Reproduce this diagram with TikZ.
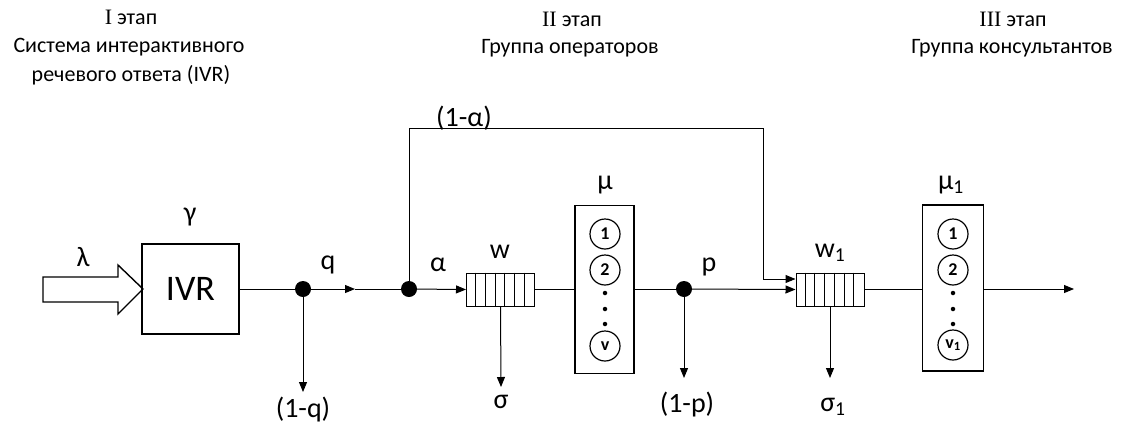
\documentclass[tikz,border=0pt]{standalone}
\usepackage{fontspec}
\setmainfont{Carlito}
\newfontfamily\romfont{Liberation Serif}
\usetikzlibrary{arrows.meta}
\tikzset{
 ln/.style={line width=1pt, draw=black},
 arr/.style={ln, -{Triangle[length=10pt,width=8pt]}},
 jdot/.style={circle, fill=black, inner sep=0pt, minimum size=16pt},
 lbl/.style={font=\fontsize{28}{30}\selectfont, inner sep=0pt},
 ttl/.style={font=\fontsize{22}{26}\selectfont, inner sep=0pt, align=center},
 qbox/.style={draw, line width=1pt, minimum width=68pt, minimum height=33pt, inner sep=0pt},
 srvbox/.style={draw, line width=1.8pt, minimum width=59pt, minimum height=168pt, inner sep=0pt},
 srv/.style={circle, draw, line width=1.2pt, minimum size=30pt, inner sep=0pt, font=\fontsize{18}{20}\selectfont\bfseries},
 sdot/.style={circle, fill=black, minimum size=4.5pt, inner sep=0pt},
}
\begin{document}
\begin{tikzpicture}[x=1pt,y=-1pt]
\useasboundingbox (0,0) rectangle (1121,426);
% titles
\node[ttl] (t1a) at (131,17) {{\romfont I} этап};
\node[ttl] (t1b) at (129,47) {Система интерактивного};
\node[ttl] (t1c) at (131,75) {речевого ответа (IVR)};
\node[ttl] (t2a) at (572,19) {{\romfont II} этап};
\node[ttl] (t2b) at (570,48) {Группа операторов};
\node[ttl] (t3a) at (1013,19) {{\romfont III} этап};
\node[ttl] (t3b) at (1012,48) {Группа консультантов};
% input arrow
\draw[line width=1.4pt] (43,277) -- (118,277) -- (118,265) -- (143,289) -- (118,314) -- (118,302) -- (43,302) -- cycle;
\node[lbl] (lam) at (83,257) {λ};
% IVR
\node[draw, line width=1.5pt, minimum width=97pt, minimum height=90pt, inner sep=0pt,
      font=\fontsize{36}{40}\selectfont] (ivr) at (190.5,289) {IVR};
\node[lbl] (gam) at (190,217) {γ};
% junctions
\node[jdot] (dq) at (303,289) {};
\node[jdot] (da) at (409,289) {};
\node[jdot] (dp) at (684,289) {};
\coordinate (qmid) at (355,289);
% queues
\node[qbox] (qw) at (500.5,289.5) {};
\foreach \i in {1,...,6} \draw[ln] ([xshift=\i*9.714pt]qw.north west) -- ([xshift=\i*9.714pt]qw.south west);
\node[qbox] (qw1) at (830,289.5) {};
\foreach \i in {1,...,6} \draw[ln] ([xshift=\i*9.714pt]qw1.north west) -- ([xshift=\i*9.714pt]qw1.south west);
% server boxes
\node[srvbox] (mu) at (604.5,289.5) {};
\node[srv] (s1) at (605,234) {1};
\node[srv] (s2) at (605,270) {2};
\node[sdot] (d1) at (605,293) {};
\node[sdot] (d2) at (605,309) {};
\node[sdot] (d3) at (605,324) {};
\node[srv] (sv) at (605,346) {v};
\node[srvbox, minimum width=61pt, minimum height=166pt] (mu1) at (953,288) {};
\node[srv] (r1) at (953,234) {1};
\node[srv] (r2) at (953,270) {2};
\node[sdot] (e1) at (953,293) {};
\node[sdot] (e2) at (953,309) {};
\node[sdot] (e3) at (953,324) {};
\node[srv] (rv) at (953,345) {v\textsubscript{1}};
% end points
\coordinate (qout) at (303,392);
\coordinate (sgout) at (501,387);
\coordinate (pout) at (684,378);
\coordinate (sg1out) at (830,378);
\coordinate (fb1) at (409,128);
\coordinate (fb2) at (763,128);
\coordinate (fb3) at (763,279);
\coordinate (out) at (1074,289);
% connectors
\draw[ln] (ivr.east) -- (dq);
\draw[arr] (dq) -- (qmid);
\draw[ln] (qmid) -- (da);
\draw[arr] (da) -- (qw.west);
\draw[ln] (qw.east) -- (mu.west |- qw.east);
\draw[ln] (mu.east |- dp) -- (dp);
\draw[arr] (dp) -- (qw1.west);
\draw[ln] (qw1.east) -- (mu1.west |- qw1.east);
\draw[arr] (mu1.east |- out) -- (out);
\draw[arr] (dq) -- (qout);
\draw[arr] (qw.south) -- (sgout);
\draw[arr] (dp) -- (pout);
\draw[arr] (qw1.south) -- (sg1out);
\draw[arr] (da) -- (fb1) -- (fb2) -- (fb3) -- (qw1.west |- fb3);
% labels
\node[lbl] (lq) at (328,265) {q};
\node[lbl] (la) at (438,265) {α};
\node[lbl] (lw) at (500,252) {w};
\node[lbl] (lmu) at (605,185) {μ};
\node[lbl] (lp) at (709,267) {p};
\node[lbl] (lw1) at (830,253) {w\textsubscript{1}};
\node[lbl] (lmu1) at (951,185) {μ\textsubscript{1}};
\node[lbl] (l1a) at (464,118) {(1-α)};
\node[lbl] (l1q) at (303,410) {(1-q)};
\node[lbl] (ls) at (501,402) {σ};
\node[lbl] (l1p) at (687,405) {(1-p)};
\node[lbl] (ls1) at (833,407) {σ\textsubscript{1}};
\end{tikzpicture}
\end{document}
